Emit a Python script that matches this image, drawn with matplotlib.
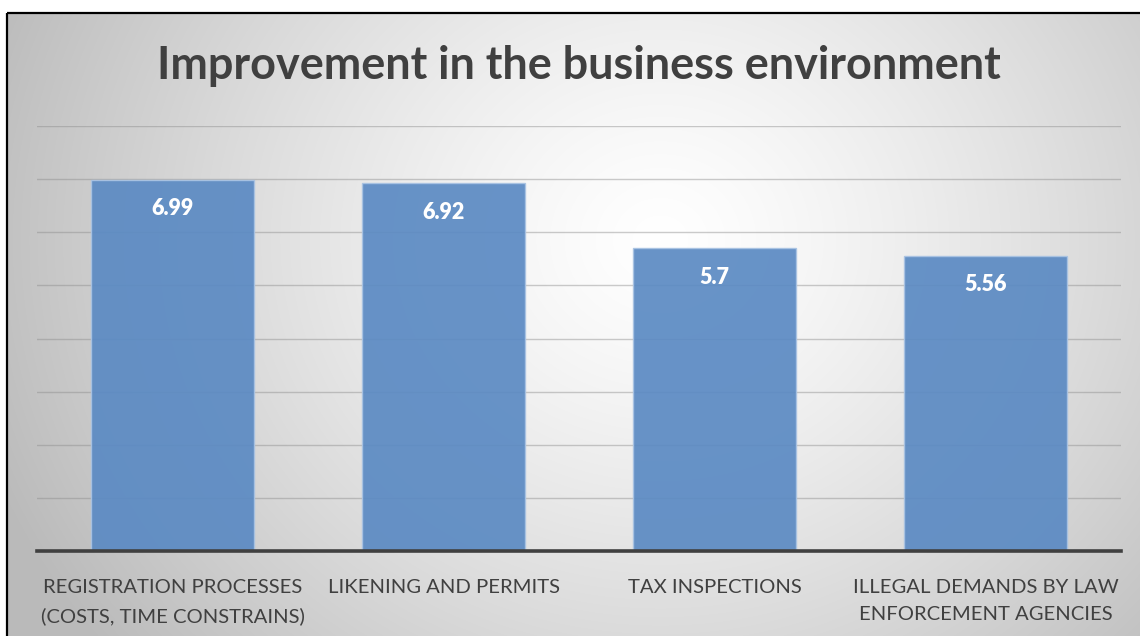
import numpy as np
import matplotlib
matplotlib.use("Agg")
import matplotlib.pyplot as plt

categories = [
    "REGISTRATION PROCESSES\n(COSTS, TIME CONSTRAINS)",
    "LIKENING AND PERMITS",
    "TAX INSPECTIONS",
    "ILLEGAL DEMANDS BY LAW\nENFORCEMENT AGENCIES",
]
values = [6.99, 6.92, 5.7, 5.56]
value_labels = ["6.99", "6.92", "5.7", "5.56"]
y_ticks = [0, 1, 2, 3, 4, 5, 6, 7, 8]
title = "Improvement in the business environment"

FONT = ["Lato", "DejaVu Sans"]
W, H = 1140, 636
fig = plt.figure(figsize=(W / 100, H / 100), dpi=100)
fig.patch.set_facecolor("white")

# radial grey background inside the chart frame
bg = fig.add_axes([0, 0, 1, 1], zorder=0)
bg.set_axis_off()
yy, xx = np.mgrid[0:H, 0:W]
r = np.hypot((xx - 660) / 1.0, (yy - 240) / 0.9)
t = np.clip(r / 720.0, 0, 1)
shade = 1.0 - 0.27 * t ** 1.3
img = np.dstack([shade, shade, shade])
fx0, fy0 = 7, 13
img[:fy0, :, :] = 1.0
img[:, :fx0, :] = 1.0
bg.imshow(img, extent=[0, W, H, 0], aspect="auto", interpolation="bilinear")
bg.set_xlim(0, W)
bg.set_ylim(H, 0)
bg.plot([fx0, W], [fy0, fy0], color="black", lw=1.6, solid_capstyle="butt")
bg.plot([fx0, fx0], [fy0, H], color="black", lw=1.6, solid_capstyle="butt")

ax = fig.add_axes([37 / W, 1 - 551 / H, (1121 - 37) / W, (551 - 126) / H], zorder=1)
ax.patch.set_alpha(0)
x = np.arange(len(categories))
ax.set_xlim(-0.5, len(categories) - 0.5)
ax.set_ylim(y_ticks[0], y_ticks[-1])
ax.set_yticks(y_ticks)
ax.yaxis.grid(True, color="#8c8c8c", lw=1.0, alpha=0.45)
ax.set_axisbelow(True)
for s in ["top", "left", "right"]:
    ax.spines[s].set_visible(False)
ax.spines["bottom"].set_color("#404040")
ax.spines["bottom"].set_linewidth(2.6)
ax.spines["bottom"].set_zorder(5)
ax.tick_params(axis="y", length=0, labelleft=False)
ax.tick_params(axis="x", length=0, pad=20)

bars = ax.bar(x, values, width=0.6, color="#5b8ac3", alpha=0.92,
              edgecolor="#a9c3e3", linewidth=1.0, zorder=2)
ax.set_xticks(x)
ax.set_xticklabels(categories, fontfamily=FONT, fontsize=14.6, color="#404040",
                   linespacing=1.75, va="top")

for xi, v, lab in zip(x, values, value_labels):
    ax.annotate(lab, (xi, v), xytext=(0, -29), textcoords="offset pixels",
                ha="center", va="center", color="white", fontsize=15.5,
                fontweight="heavy", fontfamily=FONT, zorder=4)

fig.text(579 / W, 1 - 66 / H, title, ha="center", va="center",
         fontsize=32.4, fontweight="bold", color="#404040", fontfamily=FONT)

fig.savefig("out.png", dpi=100)
